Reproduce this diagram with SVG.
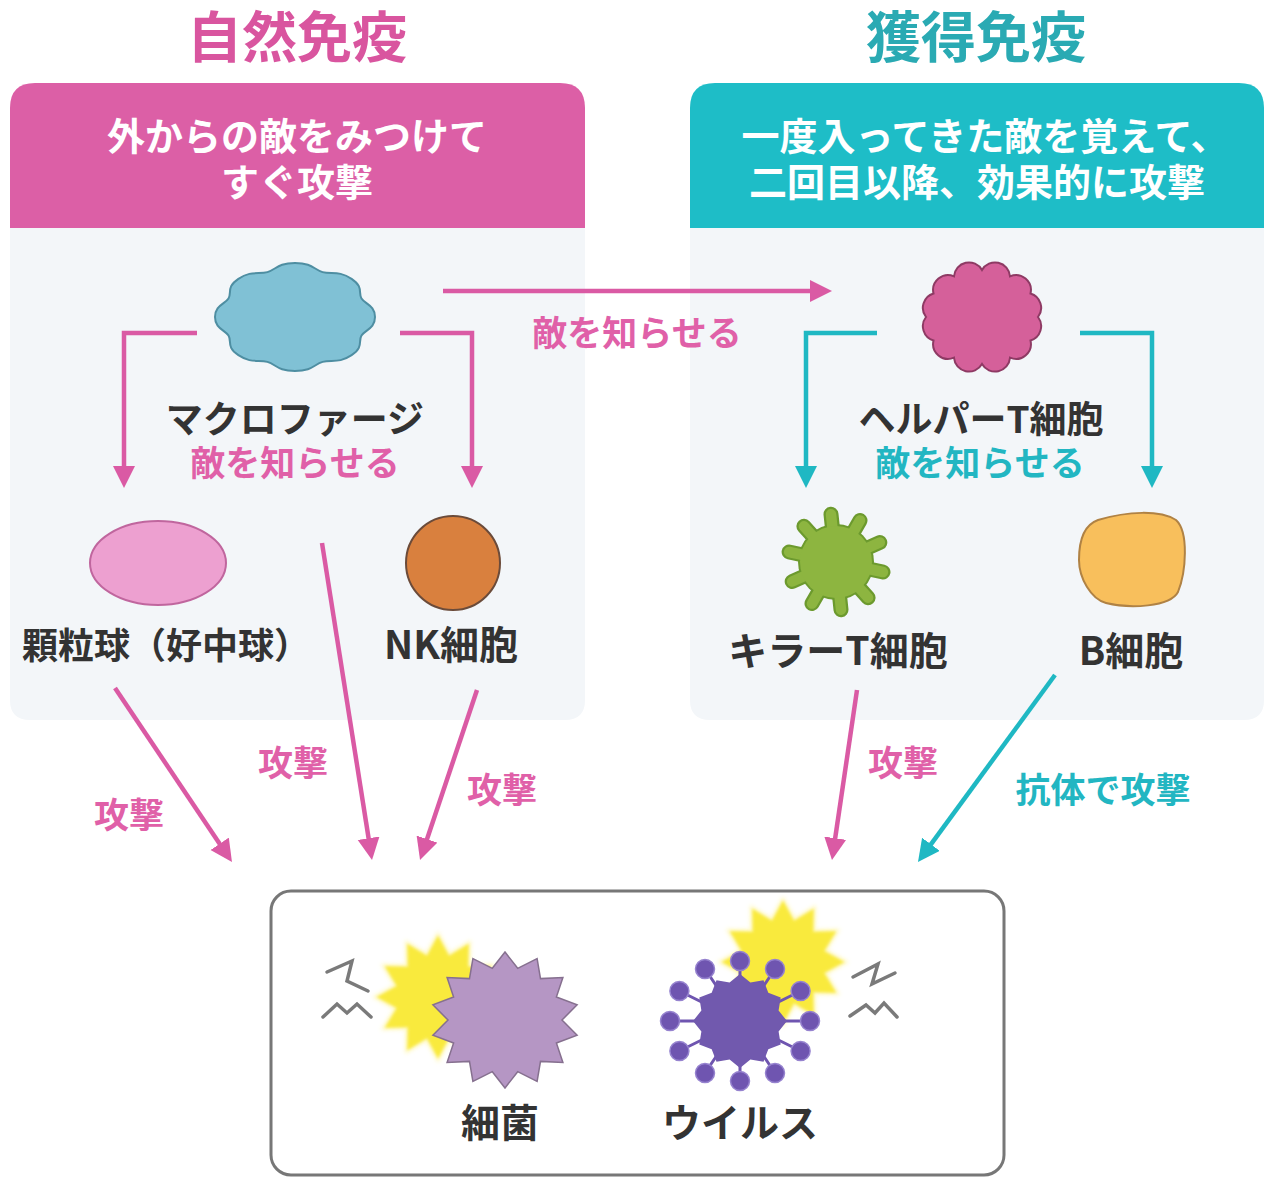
<svg xmlns="http://www.w3.org/2000/svg" width="1264" height="1178" viewBox="0 0 1264 1178">
  <style>
    text { font-family: "Noto Sans CJK JP", "Noto Sans", sans-serif; font-weight: 700; text-anchor: middle; }
    .title { font-size: 55px; }
    .head { font-size: 38px; fill: #ffffff; }
    .label { font-size: 37px; fill: #333333; }
    .big { font-size: 39px; }
    .pinkTxt { fill: #e060a8; font-size: 35px; }
    .tealTxt { fill: #22b6c2; font-size: 35px; }
    .pinkLine { fill: none; stroke: #da5aa4; stroke-width: 4.5; }
    .tealLine { fill: none; stroke: #1fb8c3; stroke-width: 4.5; }
    .panel { fill: #f3f6f9; }
    .bolt { fill: none; stroke: #7a7a7a; stroke-width: 3.5; stroke-linejoin: miter; stroke-linecap: round; }
  </style>
  <defs>
    <marker id="arrPink" markerUnits="userSpaceOnUse" markerWidth="24" markerHeight="24" refX="2" refY="11" orient="auto">
      <path d="M0,0 L22,11 L0,22 Z" fill="#da5aa4"/>
    </marker>
    <marker id="arrTeal" markerUnits="userSpaceOnUse" markerWidth="24" markerHeight="24" refX="2" refY="11" orient="auto">
      <path d="M0,0 L22,11 L0,22 Z" fill="#1fb8c3"/>
    </marker>
    <path id="burst" d="M0,-66 L11.9,-44.4 L33,-57.2 L32.5,-32.5 L57.2,-33 L44.4,-11.9 L66,0 L44.4,11.9 L57.2,33 L32.5,32.5 L33,57.2 L11.9,44.4 L0,66 L-11.9,44.4 L-33,57.2 L-32.5,32.5 L-57.2,33 L-44.4,11.9 L-66,0 L-44.4,-11.9 L-57.2,-33 L-32.5,-32.5 L-33,-57.2 L-11.9,-44.4 Z"/>
    <filter id="soft" x="-30%" y="-30%" width="160%" height="160%">
      <feGaussianBlur stdDeviation="2"/>
    </filter>
    <circle id="knob" r="9.5" fill="#6f55b0" stroke="#9683cf" stroke-width="1.5"/>
    <path id="spikes" d="M836,562 L831,514.3 M836,562 L860,520.4 M836,562 L879.8,542.5 M836,562 L883,572 M836,562 L868.1,597.7 M836,562 L841,609.7 M836,562 L812,603.6 M836,562 L792.2,581.5 M836,562 L789.1,552 M836,562 L803.9,526.3"/>
  </defs>

  <rect width="1264" height="1178" fill="#ffffff"/>

  <!-- titles -->
  <text class="title" x="297" y="57" fill="#d9559f">自然免疫</text>
  <text class="title" x="976" y="57" fill="#2aaab3">獲得免疫</text>

  <!-- innate immunity panel -->
  <g id="panel-innate">
    <path class="panel" d="M10,228 H585 V700 Q585,720 565,720 H30 Q10,720 10,700 Z"/>
    <path d="M10,228 V108 Q10,83 35,83 H560 Q585,83 585,108 V228 Z" fill="#dc5fa6"/>
    <text class="head" x="297" y="150">外からの敵をみつけて</text>
    <text class="head" x="297" y="196">すぐ攻撃</text>
  </g>

  <!-- acquired immunity panel -->
  <g id="panel-acquired">
    <path class="panel" d="M690,228 H1264 V700 Q1264,720 1244,720 H710 Q690,720 690,700 Z"/>
    <path d="M690,228 V108 Q690,83 715,83 H1239 Q1264,83 1264,108 V228 Z" fill="#1ebdc7"/>
    <text class="head" x="985" y="150">一度入ってきた敵を覚えて、</text>
    <text class="head" x="977" y="196">二回目以降、効果的に攻撃</text>
  </g>

  <!-- connectors -->
  <g id="connectors">
    <path class="pinkLine" d="M197,333 H124 V468" marker-end="url(#arrPink)"/>
    <path class="pinkLine" d="M400,333 H472 V468" marker-end="url(#arrPink)"/>
    <path class="pinkLine" d="M443,291 H812" marker-end="url(#arrPink)"/>
    <path class="tealLine" d="M877,333 H806 V468" marker-end="url(#arrTeal)"/>
    <path class="tealLine" d="M1080,333 H1152 V468" marker-end="url(#arrTeal)"/>
    <path class="pinkLine" d="M115,688 L220.8,845.4" marker-end="url(#arrPink)"/>
    <path class="pinkLine" d="M322,543 L368.9,840.2" marker-end="url(#arrPink)"/>
    <path class="pinkLine" d="M477,690 L426.4,841" marker-end="url(#arrPink)"/>
    <path class="pinkLine" d="M857,690 L834.9,840.2" marker-end="url(#arrPink)"/>
    <path class="tealLine" d="M1055,675 L929.8,845.9" marker-end="url(#arrTeal)"/>
    <text class="pinkTxt" x="637" y="346">敵を知らせる</text>
    <text class="pinkTxt" x="295" y="476">敵を知らせる</text>
    <text class="tealTxt" x="980" y="476">敵を知らせる</text>
    <text class="pinkTxt" x="129" y="828">攻撃</text>
    <text class="pinkTxt" x="293" y="776">攻撃</text>
    <text class="pinkTxt" x="502" y="803">攻撃</text>
    <text class="pinkTxt" x="903" y="776">攻撃</text>
    <text class="tealTxt" x="1103" y="803">抗体で攻撃</text>
  </g>

  <!-- macrophage -->
  <g id="macrophage">
    <path d="M375,317 C375,328.9 365.1,329.7 361.5,335.6 C357.9,341.5 364,346.8 351.6,355.2 C339.2,363.6 331.3,359.5 322.6,361.9 C313.9,364.3 312.6,371 295,371 C277.4,371 276.1,364.3 267.4,361.9 C258.7,359.5 250.8,363.6 238.4,355.2 C226,346.8 232.1,341.5 228.5,335.6 C224.9,329.7 215,328.9 215,317 C215,305.1 224.9,304.3 228.5,298.4 C232.1,292.5 226,287.2 238.4,278.8 C250.8,270.4 258.7,274.5 267.4,272.1 C276.1,269.7 277.4,263 295,263 C312.6,263 313.9,269.7 322.6,272.1 C331.3,274.5 339.2,270.4 351.6,278.8 C364,287.2 357.9,292.5 361.5,298.4 C365.1,304.3 375,305.1 375,317 Z" fill="#80c1d5" stroke="#4e8ea2" stroke-width="2"/>
    <text class="label" x="295" y="433">マクロファージ</text>
  </g>

  <!-- helper T cell -->
  <g id="helper-t">
    <path d="M1038,317 A15,15 0 0 1 1030.5,340.5 A15,15 0 0 1 1010,357.7 A15,15 0 0 1 982,364 A15,15 0 0 1 954,357.7 A15,15 0 0 1 933.5,340.5 A15,15 0 0 1 926,317 A15,15 0 0 1 933.5,293.5 A15,15 0 0 1 954,276.3 A15,15 0 0 1 982,270 A15,15 0 0 1 1010,276.3 A15,15 0 0 1 1030.5,293.5 A15,15 0 0 1 1038,317 Z" fill="#d5609a" stroke="#8e3a64" stroke-width="2"/>
    <text class="label" x="981" y="433">ヘルパーT細胞</text>
  </g>

  <!-- granulocyte -->
  <g id="granulocyte">
    <ellipse cx="158" cy="563" rx="68" ry="42" fill="#eda0d0" stroke="#c0669e" stroke-width="2"/>
    <text class="label" x="166" y="659" style="font-size:36px">顆粒球（好中球）</text>
  </g>

  <!-- NK cell -->
  <g id="nk-cell">
    <circle cx="453" cy="563" r="47" fill="#d9803e" stroke="#6b4b3a" stroke-width="2"/>
    <text class="label big" x="451" y="659">NK細胞</text>
  </g>

  <!-- killer T cell: outlined spikes and body -->
  <g id="killer-t">
    <use href="#spikes" stroke="#6c9a2e" stroke-width="15" stroke-linecap="round"/>
    <circle cx="836" cy="562" r="38" fill="#6c9a2e"/>
    <use href="#spikes" stroke="#8db540" stroke-width="10.5" stroke-linecap="round"/>
    <circle cx="836" cy="562" r="36" fill="#8db540"/>
    <text class="label big" x="838" y="665">キラーT細胞</text>
  </g>

  <!-- B cell -->
  <g id="b-cell">
    <path d="M1098,520 C1128,511 1160,510 1176,520 C1189,532 1186,572 1178,592 C1170,607 1130,609 1106,603 C1091,599 1079,578 1079,560 C1079,541 1084,525 1098,520 Z" fill="#f8bf5c" stroke="#b08244" stroke-width="2"/>
    <text class="label big" x="1131" y="665">B細胞</text>
  </g>

  <!-- pathogens -->
  <g id="pathogens">
    <rect x="271" y="891" width="733" height="284" rx="20" fill="#ffffff" stroke="#777777" stroke-width="3"/>

    <!-- bacterium -->
    <g id="bacterium">
      <use href="#burst" transform="translate(438,997)" fill="#fff7b0" filter="url(#soft)" opacity="0.8"/>
      <use href="#burst" transform="translate(438,997) scale(0.93)" fill="#f9ea3c" filter="url(#soft)"/>
      <path d="M505,952 L517.7,968.3 L537.1,958.7 L540.5,978.6 L562.9,977.6 L556.4,997 L577.1,1004.9 L562,1020 L577.1,1035.1 L556.4,1043 L562.9,1062.4 L540.5,1061.4 L537.1,1081.3 L517.7,1071.7 L505,1088 L492.3,1071.7 L472.9,1081.3 L469.5,1061.4 L447.1,1062.4 L453.6,1043 L432.9,1035.1 L448,1020 L432.9,1004.9 L453.6,997 L447.1,977.6 L469.5,978.6 L472.9,958.7 L492.3,968.3 Z" fill="#b596c4" stroke="#86708f" stroke-width="1.5"/>
      <path class="bolt" d="M327,972 L352,961 L347,981 L368,991"/>
      <path class="bolt" d="M323,1017 L337,1004 L347,1013 L357,1004 L371,1017"/>
      <text class="label big" x="500" y="1137">細菌</text>
    </g>

    <!-- virus -->
    <g id="virus">
      <use href="#burst" transform="translate(783,962)" fill="#fff7b0" filter="url(#soft)" opacity="0.8"/>
      <use href="#burst" transform="translate(783,962) scale(0.93)" fill="#f9ea3c" filter="url(#soft)"/>
      <g stroke="#6f55b0" stroke-width="3">
        <path d="M740,1021 L740,961 M740,1021 L775,969 M740,1021 L800.6,991 M740,1021 L810,1021 M740,1021 L800.6,1051 M740,1021 L775,1073 M740,1021 L740,1081 M740,1021 L705,1073 M740,1021 L679.4,1051 M740,1021 L670,1021 M740,1021 L679.4,991 M740,1021 L705,969"/>
      </g>
      <path transform="translate(740,1021)" d="M0,-47 L10.4,-38.6 L23.5,-40.7 L28.3,-28.3 L40.7,-23.5 L38.6,-10.4 L47,0 L38.6,10.4 L40.7,23.5 L28.3,28.3 L23.5,40.7 L10.4,38.6 L0,47 L-10.4,38.6 L-23.5,40.7 L-28.3,28.3 L-40.7,23.5 L-38.6,10.4 L-47,0 L-38.6,-10.4 L-40.7,-23.5 L-28.3,-28.3 L-23.5,-40.7 L-10.4,-38.6 Z" fill="#7159ae"/>
      <use href="#knob" x="740" y="961"/>
      <use href="#knob" x="775" y="969"/>
      <use href="#knob" x="800.6" y="991"/>
      <use href="#knob" x="810" y="1021"/>
      <use href="#knob" x="800.6" y="1051"/>
      <use href="#knob" x="775" y="1073"/>
      <use href="#knob" x="740" y="1081"/>
      <use href="#knob" x="705" y="1073"/>
      <use href="#knob" x="679.4" y="1051"/>
      <use href="#knob" x="670" y="1021"/>
      <use href="#knob" x="679.4" y="991"/>
      <use href="#knob" x="705" y="969"/>
      <path class="bolt" d="M853,977 L878,964 L872,984 L895,973"/>
      <path class="bolt" d="M850,1016 L866,1005 L875,1013 L884,1003 L897,1017"/>
      <text class="label big" x="740" y="1137">ウイルス</text>
    </g>
  </g>
</svg>
